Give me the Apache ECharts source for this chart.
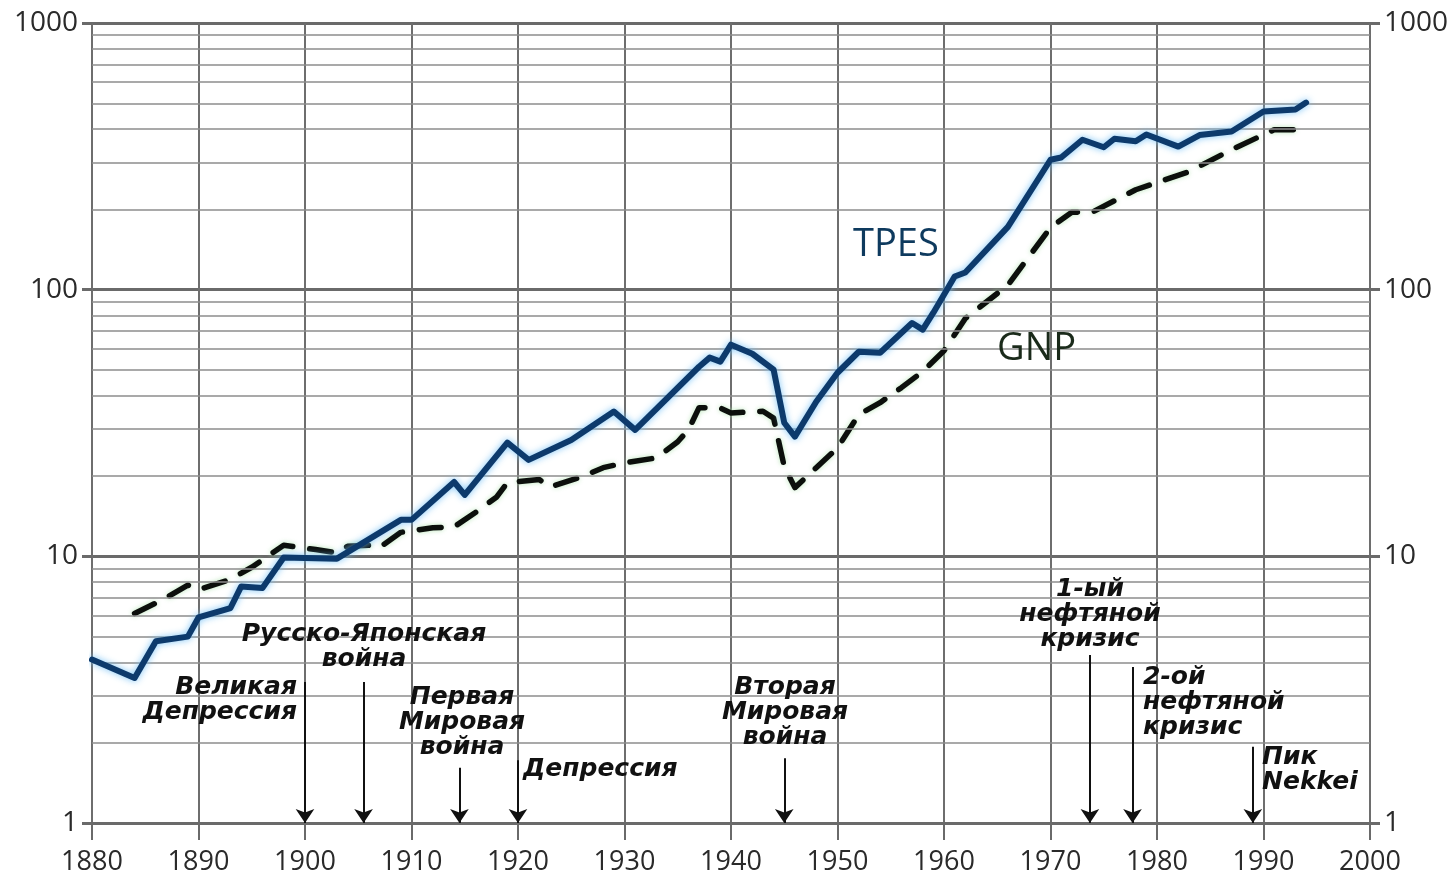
<!DOCTYPE html>
<html><head><meta charset="utf-8">
<script src="https://cdn.jsdelivr.net/npm/echarts@6/dist/echarts.min.js"></script>
<style>html,body{margin:0;padding:0;background:#fff}#c{width:1454px;height:882px}</style>
</head><body><div id="c"></div>
<script>
// ---- data ----
const tpesYears = [1880,1884,1886,1889,1890,1893,1894,1896,1898,1903,1909,1910,1914,1915,1919,1921,1925,1929,1931,1937,1938,1939,1940,1942,1944,1945,1946,1948,1950,1952,1954,1957,1958,1959,1961,1962,1966,1970,1971,1973,1975,1976,1978,1979,1982,1984,1987,1990,1993,1994];
const tpesValues = [4.1,3.5,4.8,5.0,5.9,6.4,7.7,7.6,9.9,9.8,13.7,13.7,19.0,17.0,26.7,23.0,27.3,34.9,29.8,51.4,55.6,53.7,62.2,57.5,50.1,31.7,28.1,38,48.8,58.5,58,75,70.8,82,112,116,172,307,313,365,342,368,360,382,344,380,392,466,474,503];
const gnpYears = [1884,1887,1889,1890,1893,1895,1898,1901,1903,1904,1906,1907,1909,1912,1914,1916,1918,1919,1922,1923,1926,1928,1930,1933,1935,1936,1937,1939,1940,1943,1944,1945,1946,1948,1950,1952,1954,1956,1958,1960,1962,1966,1970,1972,1974,1978,1983,1987,1991,1994];
const gnpValues = [6.1,7.0,7.8,7.5,8.2,9.1,11.0,10.6,10.3,10.9,11.0,10.8,12.3,12.8,12.9,14.6,16.7,18.9,19.4,18.2,19.9,21.5,22.4,23.4,26.9,29.8,36.1,36,34.5,35,33,21.7,18.1,21.5,25.5,34,37.7,42.9,49.3,59,78,104,171,195,196,237,277,335,398,398];
const seriesNames = ['TPES','GNP'];
const xTickLabels = [1880,1890,1900,1910,1920,1930,1940,1950,1960,1970,1980,1990,2000];
const yTickLabels = [1,10,100,1000];
const minorGridValues = [2,3,4,5,6,7,8,9,20,30,40,50,60,70,80,90,200,300,400,500,600,700,800,900];
const eventYears = [1900,1905.5,1914.5,1920,1945,1973.7,1977.7,1989];
const eventTops = [3.38,3.38,1.61,1.72,1.75,4.27,3.85,1.93];
const eventLabels = ['Великая\nДепрессия','Русско-Японская\nвойна','Первая\nМировая\nвойна','Депрессия','Вторая\nМировая\nвойна','1-ый\nнефтяной\nкризис','2-ой\nнефтяной\nкризис','Пик\nNekkei'];

// ---- layout (anchors in data space) ----
const eventLabelAnchors = [[1899.25,3.59,'right'],[1905.54,5.68,'center'],[1914.74,3.30,'center'],[1920.47,1.77,'left'],[1945.07,3.59,'center'],[1973.71,8.38,'center'],[1978.69,3.92,'left'],[1989.86,1.96,'left']];
const seriesLabelAnchors = [[1951.46,146.3],[1964.98,59.6]];

const pair = (xs, ys) => xs.map((x, i) => [x, ys[i]]);
const axisFont = '"Open Sans",sans-serif';
const chart = echarts.init(document.getElementById('c'), null, {renderer:'canvas'});

const yAxisBase = {
  type:'log', logBase:10, min:1, max:1000, splitNumber:3,
  axisLine:{show:false},
  axisTick:{show:true, length:10, lineStyle:{color:'#6a6a6a', width:3}},
  axisLabel:{color:'#2a2a2a', fontSize:28, fontFamily:axisFont, margin:14,
    formatter: v => yTickLabels.includes(Math.round(v)) ? String(Math.round(v)) : ''}
};

chart.setOption({
  animation:false,
  backgroundColor:'#ffffff',
  grid:{left:92, right:84, top:23, bottom:59, containLabel:false},
  xAxis:{
    type:'value', min:1880, max:2000, interval:10,
    axisLine:{show:true, lineStyle:{color:'#6a6a6a', width:3}},
    axisTick:{show:true, length:17, lineStyle:{color:'#6a6a6a', width:2}},
    axisLabel:{color:'#2a2a2a', fontSize:27, fontFamily:axisFont, margin:26,
      formatter: v => xTickLabels.includes(v) ? String(v) : ''},
    splitLine:{show:true, lineStyle:{color:'#6e6e6e', width:2}}
  },
  yAxis:[
    Object.assign({}, yAxisBase, {position:'left',
      splitLine:{show:true, lineStyle:{color:'#6a6a6a', width:3}}}),
    Object.assign({}, yAxisBase, {position:'right', splitLine:{show:false}})
  ],
  series:[
    {
      type:'line', name:'grid', z:1, silent:true, symbol:'none',
      data:[[1880,1]], lineStyle:{opacity:0},
      markLine:{silent:true, symbol:['none','none'], label:{show:false},
        lineStyle:{color:'#8c8c8c', width:1.6, type:'solid'},
        data: minorGridValues.map(v => ({yAxis:v}))}
    },
    {
      type:'line', name:seriesNames[0], z:5, symbol:'none', smooth:false,
      data: pair(tpesYears, tpesValues),
      lineStyle:{color:'#0d3a6c', width:6, join:'round', cap:'round',
        shadowColor:'rgba(110,190,245,0.9)', shadowBlur:7}
    },
    {
      type:'line', name:seriesNames[1], z:4, symbol:'none', smooth:false,
      data: pair(gnpYears, gnpValues),
      lineStyle:{color:'#0c0f0c', width:5.5, type:[22,17], cap:'round', join:'round',
        shadowColor:'rgba(170,225,170,0.8)', shadowBlur:5}
    },
    {
      type:'line', name:'events', z:6, silent:true, symbol:'none',
      data:[[1880,1]], lineStyle:{opacity:0},
      markLine:{silent:true, symbol:['none','arrow'], symbolSize:14, label:{show:false},
        lineStyle:{color:'#111', width:2, type:'solid'},
        itemStyle:{color:'#111'},
        data: eventYears.map((y, i) => [{coord:[y, eventTops[i]]},{coord:[y, 1]}])}
    }
  ]
});

// annotation texts positioned through the chart's own coordinate conversion
const graphics = [];
eventLabels.forEach((t, i) => {
  const a = eventLabelAnchors[i];
  const p = chart.convertToPixel({gridIndex:0}, [a[0], a[1]]);
  graphics.push({type:'text', x:p[0], y:p[1], z:10, silent:true,
    style:{text:t, fill:'#111', font:'italic bold 25px "DejaVu Sans", sans-serif',
      align:a[2], verticalAlign:'top', lineHeight:25}});
});
const seriesLabelColors = ['#0e3a5e','#1a2a1a'];
seriesNames.forEach((n, i) => {
  const a = seriesLabelAnchors[i];
  const p = chart.convertToPixel({gridIndex:0}, [a[0], a[1]]);
  graphics.push({type:'text', x:p[0], y:p[1], z:10, silent:true,
    style:{text:n, fill:seriesLabelColors[i], font:'38px "Open Sans", sans-serif',
      align:'left', verticalAlign:'middle'}});
});
chart.setOption({graphic:graphics});
</script>
</body></html>
